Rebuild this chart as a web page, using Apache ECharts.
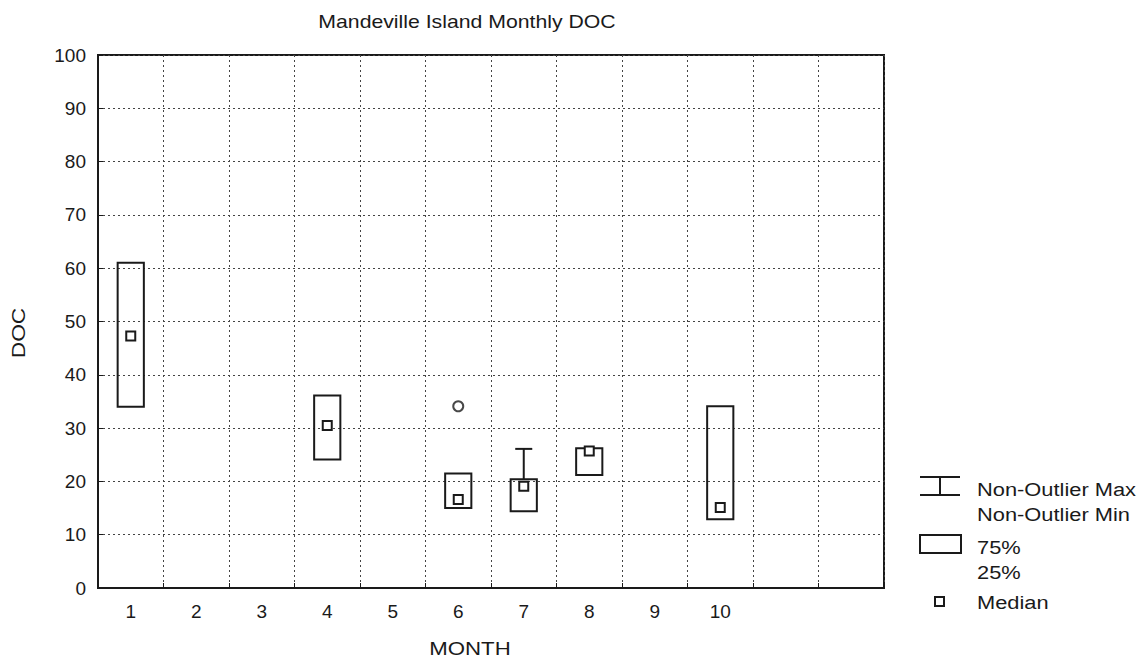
<!DOCTYPE html>
<html>
<head>
<meta charset="utf-8">
<script src="https://cdn.jsdelivr.net/npm/echarts@6/dist/echarts.min.js"></script>
<style>
html,body{margin:0;padding:0;background:#fff;}
#chart{width:1147px;height:662px;}
</style>
</head>
<body>
<div id="chart"></div>
<script>
// ---- data ----
const categories = ['1','2','3','4','5','6','7','8','9','10','11','12'];
const tickLabels = ['1','2','3','4','5','6','7','8','9','10','',''];
const boxMonthIndex = [0, 3, 5, 6, 7, 9];
const nonOutlierMin = [34.0, 24.1, 15.0, 14.4, 21.2, 12.9];
const q25 = [34.0, 24.1, 15.0, 14.4, 21.2, 12.9];
const medians = [47.3, 30.5, 16.6, 19.1, 25.7, 15.1];
const q75 = [61.0, 36.1, 21.5, 20.4, 26.2, 34.1];
const nonOutlierMax = [61.0, 36.1, 21.5, 26.1, 26.2, 34.1];
const outlierMonthIndex = [5];
const outlierValues = [34.1];

const INK = '#1a1a1a';
const TXT = '#1a1a1a';
const FONT = 'Liberation Sans, Arial, sans-serif';

const boxData = boxMonthIndex.map((m, i) => [m, nonOutlierMin[i], q25[i], medians[i], q75[i], nonOutlierMax[i]]);
const outlierData = outlierMonthIndex.map((m, i) => [m, outlierValues[i]]);

function renderBox(params, api) {
  const x = api.value(0);
  const vMin = api.value(1), vQ1 = api.value(2), vMed = api.value(3), vQ3 = api.value(4), vMax = api.value(5);
  const pMin = api.coord([x, vMin]);
  const pQ1 = api.coord([x, vQ1]);
  const pMed = api.coord([x, vMed]);
  const pQ3 = api.coord([x, vQ3]);
  const pMax = api.coord([x, vMax]);
  const bw = api.size([1, 0])[0];
  const boxW = bw * 0.4;
  const capW = bw * 0.26;
  const st = {stroke: INK, fill: 'none', lineWidth: 2};
  const ch = [];
  ch.push({type: 'rect', shape: {x: pQ3[0] - boxW / 2, y: pQ3[1], width: boxW, height: pQ1[1] - pQ3[1]}, style: st});
  if (vMax > vQ3) {
    ch.push({type: 'line', shape: {x1: pQ3[0], y1: pQ3[1], x2: pMax[0], y2: pMax[1]}, style: st});
    ch.push({type: 'line', shape: {x1: pMax[0] - capW / 2, y1: pMax[1], x2: pMax[0] + capW / 2, y2: pMax[1]}, style: st});
  }
  if (vMin < vQ1) {
    ch.push({type: 'line', shape: {x1: pQ1[0], y1: pQ1[1], x2: pMin[0], y2: pMin[1]}, style: st});
    ch.push({type: 'line', shape: {x1: pMin[0] - capW / 2, y1: pMin[1], x2: pMin[0] + capW / 2, y2: pMin[1]}, style: st});
  }
  const s = 9;
  ch.push({type: 'rect', shape: {x: pMed[0] - s / 2, y: pMed[1] - s / 2, width: s, height: s}, style: {stroke: INK, fill: '#fff', lineWidth: 2}});
  return {type: 'group', children: ch};
}

function label(text, x, y, size, sx, extra) {
  return Object.assign({type: 'text', x: x, y: y, scaleX: sx, style: {text: text, x: 0, y: 0, fontSize: size, fill: TXT, fontFamily: FONT, verticalAlign: 'middle'}}, extra || {});
}

const chart = echarts.init(document.getElementById('chart'), null, {renderer: 'svg'});
const dotted = {color: '#444', width: 1, type: [2, 3]};
const legendX = 920, legendTextX = 977;
const title = label('Mandeville Island Monthly DOC', 467, 22, 18, 1.18);
title.style.align = 'center';
const month = label('MONTH', 470, 648, 19, 1.17);
month.style.align = 'center';
const doc = {type: 'text', x: 18, y: 333, rotation: Math.PI / 2, scaleX: 1.2, style: {text: 'DOC', x: 0, y: 0, fontSize: 19, fill: TXT, fontFamily: FONT, align: 'center', verticalAlign: 'middle'}};

chart.setOption({
  backgroundColor: '#fff',
  animation: false,
  textStyle: {fontFamily: FONT},
  grid: {left: 98, right: 263, top: 55, bottom: 74, show: true, borderColor: INK, borderWidth: 2, backgroundColor: 'transparent'},
  xAxis: {
    type: 'category', data: categories, boundaryGap: true,
    axisLine: {lineStyle: {color: INK, width: 2}},
    axisTick: {show: true, inside: true, length: 5, alignWithLabel: false, interval: 0, lineStyle: {color: INK, width: 1}},
    axisLabel: {interval: 0, margin: 14, fontSize: 19, color: TXT, fontFamily: FONT, formatter: (v, i) => tickLabels[i]},
    splitLine: {show: true, interval: 0, lineStyle: dotted}
  },
  yAxis: {
    type: 'value', min: 0, max: 100, interval: 10,
    axisLine: {show: true, lineStyle: {color: INK, width: 2}},
    axisTick: {show: true, inside: true, length: 5, lineStyle: {color: INK, width: 1}},
    axisLabel: {margin: 12, fontSize: 19, color: TXT, fontFamily: FONT},
    splitLine: {show: true, lineStyle: dotted}
  },
  graphic: [
    title, month, doc,
    {type: 'line', shape: {x1: legendX, y1: 477, x2: legendX + 40, y2: 477}, style: {stroke: INK, lineWidth: 2}},
    {type: 'line', shape: {x1: legendX, y1: 495, x2: legendX + 40, y2: 495}, style: {stroke: INK, lineWidth: 2}},
    {type: 'line', shape: {x1: legendX + 20, y1: 477, x2: legendX + 20, y2: 495}, style: {stroke: INK, lineWidth: 2}},
    {type: 'rect', shape: {x: legendX, y: 535, width: 41, height: 18}, style: {stroke: INK, fill: 'none', lineWidth: 2}},
    {type: 'rect', shape: {x: 935, y: 597, width: 9, height: 9}, style: {stroke: INK, fill: 'none', lineWidth: 2}},
    label('Non-Outlier Max', legendTextX, 489, 19, 1.15),
    label('Non-Outlier Min', legendTextX, 514, 19, 1.15),
    label('75%', legendTextX, 547, 19, 1.15),
    label('25%', legendTextX, 572, 19, 1.15),
    label('Median', legendTextX, 602, 19, 1.15)
  ],
  series: [
    {type: 'custom', renderItem: renderBox, data: boxData, encode: {x: 0, y: [1, 2, 3, 4, 5]}, z: 5},
    {type: 'scatter', data: outlierData, symbol: 'circle', symbolSize: 10, itemStyle: {color: '#fff', borderColor: INK, borderWidth: 2}, z: 6}
  ]
});
</script>
</body>
</html>
